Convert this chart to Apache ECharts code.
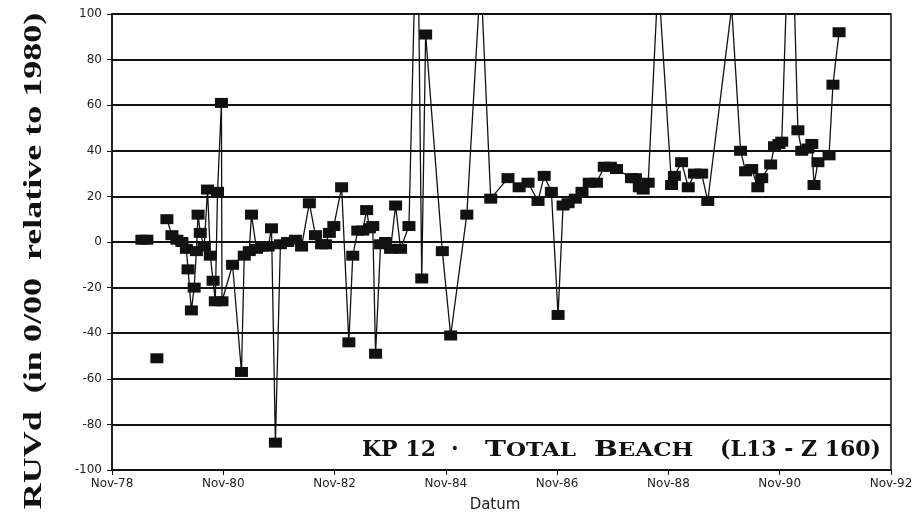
<!DOCTYPE html>
<html>
<head>
<meta charset="utf-8">
<script src="https://cdn.jsdelivr.net/npm/echarts@6/dist/echarts.min.js"></script>
<style>
  html, body { margin: 0; padding: 0; background: #fff; }
  #chart { width: 922px; height: 522px; }
</style>
</head>
<body>
<div id="chart"></div>
<script>
// measurement dates (decimal years) and RUVd values (0/00 relative to 1980)
// null = gap in the survey line
var dates = [
  1979.37, 1979.46, 1979.55, 1979.64, 1979.73, 1979.82, 1979.91, 1980.00, 1980.09, 1980.17,
  1980.20, 1980.26, 1980.31, 1980.35, 1980.38, 1980.42, 1980.49, 1980.55, 1980.60, 1980.65,
  1980.69, 1980.73, 1980.80, 1980.81, 1981.00, 1981.16, 1981.21, 1981.30, 1981.34, 1981.43,
  1981.54, 1981.64, 1981.70, 1981.77, 1981.86, 1981.99, 1982.13, 1982.24, 1982.38, 1982.49,
  1982.60, 1982.67, 1982.74, 1982.82, 1982.96, 1983.09, 1983.16, 1983.25, 1983.34, 1983.41,
  1983.46, 1983.52, 1983.57, 1983.66, 1983.75, 1983.84, 1983.93, 1984.02, 1984.17, 1984.32,
  1984.40, 1984.47, 1984.77, 1984.92, 1985.21, 1985.46, 1985.64, 1985.95, 1986.15, 1986.31,
  1986.49, 1986.60, 1986.73, 1986.85, 1986.94, 1987.03, 1987.16, 1987.28, 1987.41, 1987.54,
  1987.68, 1987.79, 1987.90, 1988.17, 1988.24, 1988.31, 1988.38, 1988.47, 1988.65, 1988.89,
  1988.94, 1989.07, 1989.19, 1989.30, 1989.43, 1989.54, 1989.97, 1990.13, 1990.22, 1990.33,
  1990.44, 1990.51, 1990.67, 1990.74, 1990.82, 1990.87, 1991.03, 1991.16, 1991.23, 1991.34,
  1991.41, 1991.45, 1991.52, 1991.72, 1991.79, 1991.90
];
var ruvd = [
  1, 1, null, -51, null, 10, 3, 1, 0, -3,
  -12, -30, -20, -4, 12, 4, -2, 23, -6, -17,
  -26, 22, 61, -26, -10, -57, -6, -4, 12, -3,
  -2, -2, 6, -88, -1, 0, 1, -2, 17, 3,
  -1, -1, 4, 7, 24, -44, -6, 5, 5, 14,
  6, 7, -49, -1, 0, -3, 16, -3, 7, 160,
  -16, 91, -4, -41, 12, 117, 19, 28, 24, 26,
  18, 29, 22, -32, 16, 17, 19, 22, 26, 26,
  33, 33, 32, 28, 28, 24, 23, 26, 116, 25,
  29, 35, 24, 30, 30, 18, 103, 40, 31, 32,
  24, 28, 34, 42, 43, 44, 165, 49, 40, 41,
  43, 25, 35, 38, 69, 92
];
var startYear = 1978 + 10 / 12; // Nov-78
var yTicks = [-100, -80, -60, -40, -20, 0, 20, 40, 60, 80, 100];

var chart = echarts.init(document.getElementById('chart'));

var points = dates.map(function (d, i) {
  return [(d - startYear) * 12, ruvd[i]];
});

// title words, small caps done with two font sizes
var capStyle = {
  b: { fontFamily: 'DejaVu Serif', fontWeight: 'bold', fontSize: 22, fill: '#111', verticalAlign: 'bottom', lineHeight: 28 },
  s: { fontFamily: 'DejaVu Serif', fontWeight: 'bold', fontSize: 18, fill: '#111', verticalAlign: 'bottom', lineHeight: 28, padding: [0, 0, 1, 0] }
};
function titleWord(x, text, sx) {
  return {
    type: 'text', x: x, y: 461, scaleX: sx || 1,
    style: { text: text, align: 'left', verticalAlign: 'bottom', rich: capStyle }
  };
}

var option = {
  backgroundColor: '#fff',
  animation: false,
  grid: {
    left: 112, right: 31, top: 14, bottom: 52,
    show: true, borderColor: '#111', borderWidth: 1.5
  },
  xAxis: {
    type: 'value',
    min: 0, max: 168, interval: 24,
    axisLine: { onZero: false, lineStyle: { color: '#111', width: 1.5 } },
    axisTick: { show: true, length: 5, lineStyle: { color: '#111' } },
    splitLine: { show: false },
    axisLabel: {
      margin: 8,
      color: '#222',
      fontFamily: 'DejaVu Sans',
      fontSize: 12,
      formatter: function (v) { return 'Nov-' + (78 + v / 12); }
    }
  },
  yAxis: {
    type: 'value',
    min: yTicks[0], max: yTicks[yTicks.length - 1], interval: 20,
    axisLine: { show: true, lineStyle: { color: '#111', width: 1.5 } },
    axisTick: { show: true, length: 5, lineStyle: { color: '#111' } },
    splitLine: { show: true, lineStyle: { color: '#111', width: 2 } },
    axisLabel: {
      margin: 10,
      color: '#222',
      fontFamily: 'DejaVu Sans',
      fontSize: 12
    }
  },
  series: [{
    type: 'line',
    data: points,
    clip: true,
    connectNulls: false,
    symbol: 'rect',
    symbolSize: [13, 10],
    showAllSymbol: true,
    itemStyle: { color: '#111' },
    lineStyle: { color: '#111', width: 1.3 }
  }],
  graphic: [
    {
      type: 'text',
      x: 35, y: 261,
      rotation: Math.PI / 2,
      scaleX: 1.44,
      style: {
        text: 'RUVd  (in 0/00  relative to 1980)',
        fontFamily: 'Liberation Serif',
        fontWeight: 'bold',
        fontSize: 25,
        fill: '#111',
        align: 'center',
        verticalAlign: 'middle'
      }
    },
    {
      type: 'text',
      x: 495, y: 505,
      style: {
        text: 'Datum',
        fontFamily: 'DejaVu Sans',
        fontSize: 15,
        fill: '#222',
        align: 'center',
        verticalAlign: 'middle'
      }
    },
    titleWord(362, '{b|KP 12}'),
    titleWord(451, '{b|·}'),
    titleWord(485, '{b|T}{s|OTAL}', 1.28),
    titleWord(594, '{b|B}{s|EACH}', 1.28),
    titleWord(720, '{b|(L13 - Z 160)}')
  ]
};

chart.setOption(option);
</script>
</body>
</html>
